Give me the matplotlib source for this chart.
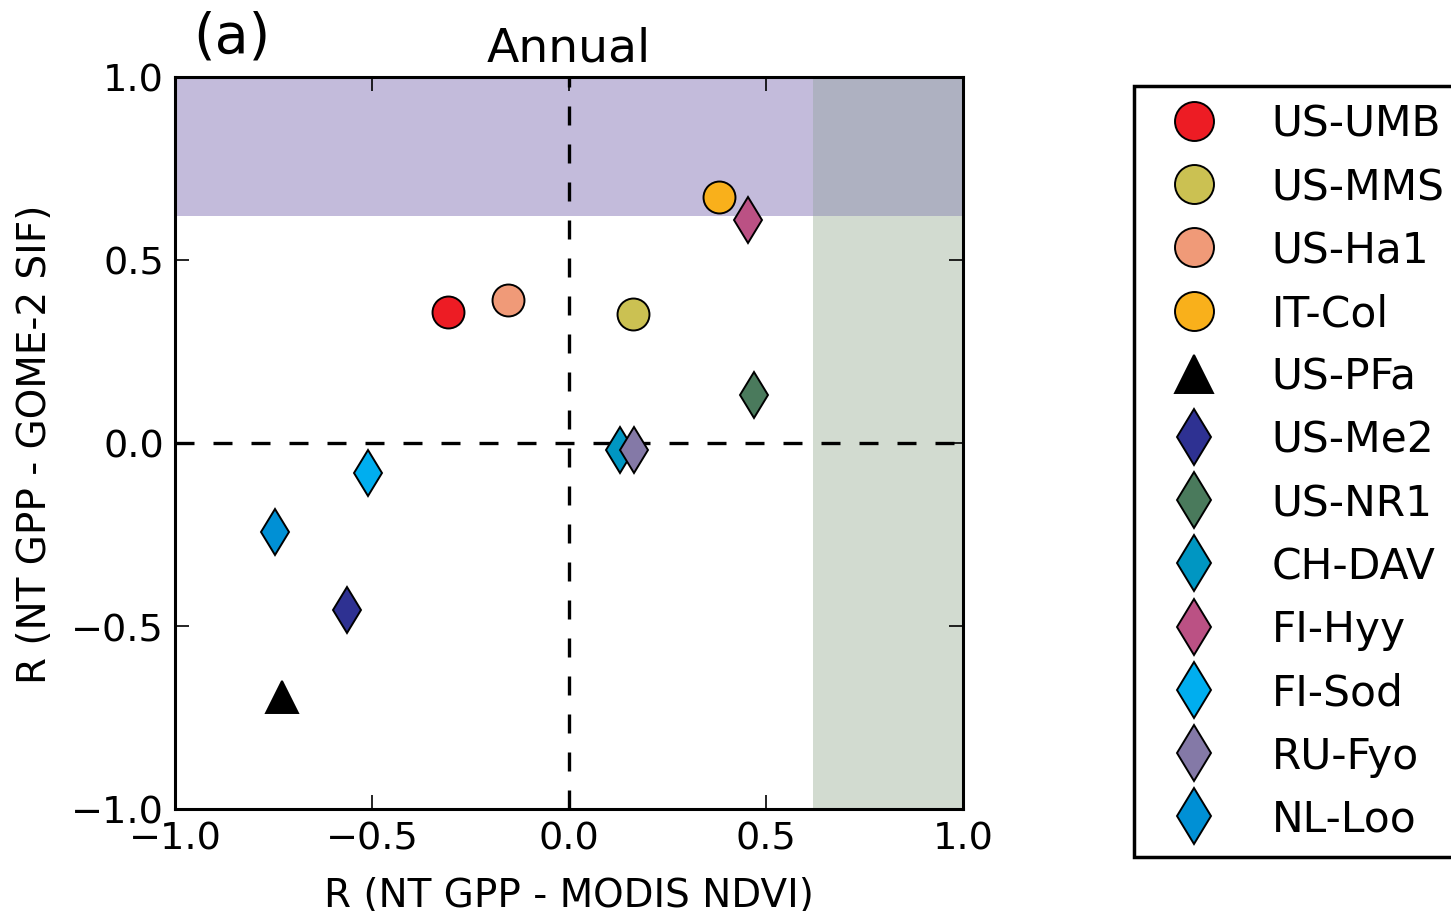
import matplotlib
matplotlib.use("Agg")
import matplotlib.pyplot as plt

# Datos por sitio
sites = ["US-UMB", "US-MMS", "US-Ha1", "IT-Col", "US-PFa", "US-Me2",
         "US-NR1", "CH-DAV", "FI-Hyy", "FI-Sod", "RU-Fyo", "NL-Loo"]
r_ndvi = [-0.307, 0.162, -0.155, 0.381, -0.729, -0.564,
          0.470, 0.129, 0.454, -0.511, 0.165, -0.745]
r_sif = [0.358, 0.352, 0.391, 0.672, -0.693, -0.455,
         0.131, -0.019, 0.609, -0.082, -0.019, -0.242]
markers = ["o", "o", "o", "o", "^", "d", "d", "d", "d", "d", "d", "d"]
colors = ["#ed1c24", "#cbc152", "#f09a78", "#f9b01b", "#000000", "#2e3192",
          "#4a7a5c", "#0096c2", "#bb5184", "#00aeef", "#8479a7", "#0090d5"]
threshold = 0.62

fig = plt.figure(figsize=(14.51, 9.12), dpi=100)
ax = fig.add_axes([175/1451, 1-810/912, (963-175)/1451, (810-78)/912])

# Zonas sombreadas
f = (threshold + 1) / 2
ax.axhspan(threshold, 1, xmin=0, xmax=f, color="#c3bbdb", lw=0, zorder=0)
ax.axvspan(threshold, 1, ymin=0, ymax=f, color="#d2dbd0", lw=0, zorder=0)
ax.axvspan(threshold, 1, ymin=f, ymax=1, color="#aeb1c1", lw=0, zorder=0)

ax.axhline(0, color="k", lw=2.4, ls=(0, (5.7, 5.7)), zorder=1)
ax.axvline(0, color="k", lw=2.4, ls=(0, (5.7, 5.7)), zorder=1)

for s, x, y, m, c in zip(sites, r_ndvi, r_sif, markers, colors):
    ax.plot(x, y, linestyle="none", marker=m, markersize=23, markerfacecolor=c,
            markeredgecolor="k", markeredgewidth=1.4, label=s, zorder=3)

ax.set_xlim(-1, 1)
ax.set_ylim(-1, 1)
ax.set_xticks([-1.0, -0.5, 0.0, 0.5, 1.0])
ax.set_yticks([-1.0, -0.5, 0.0, 0.5, 1.0])
ax.tick_params(direction="in", length=10, width=1.2, labelsize=27.5,
               top=True, right=True, pad=8)
for sp in ax.spines.values():
    sp.set_linewidth(2.2)

ax.set_xlabel("R (NT GPP - MODIS NDVI)", fontsize=28, labelpad=14)
ax.set_ylabel("R (NT GPP - GOME-2 SIF)", fontsize=28, labelpad=12)
ax.set_title("Annual", fontsize=34, pad=12)
fig.text(232/1451, 1-38/912, "(a)", fontsize=40, ha="center", va="center")

leg = ax.legend(loc="upper left", bbox_to_anchor=(1134/1451, 1-87/912),
                bbox_transform=fig.transFigure, fontsize=30.5, numpoints=1,
                markerscale=1.22,
                fancybox=False, framealpha=1, edgecolor="k", borderpad=0.4,
                handlelength=2.05, handletextpad=0.8, labelspacing=0.5,
                borderaxespad=0)
leg.get_frame().set_linewidth(2.5)

fig.savefig("out.png", dpi=100)
